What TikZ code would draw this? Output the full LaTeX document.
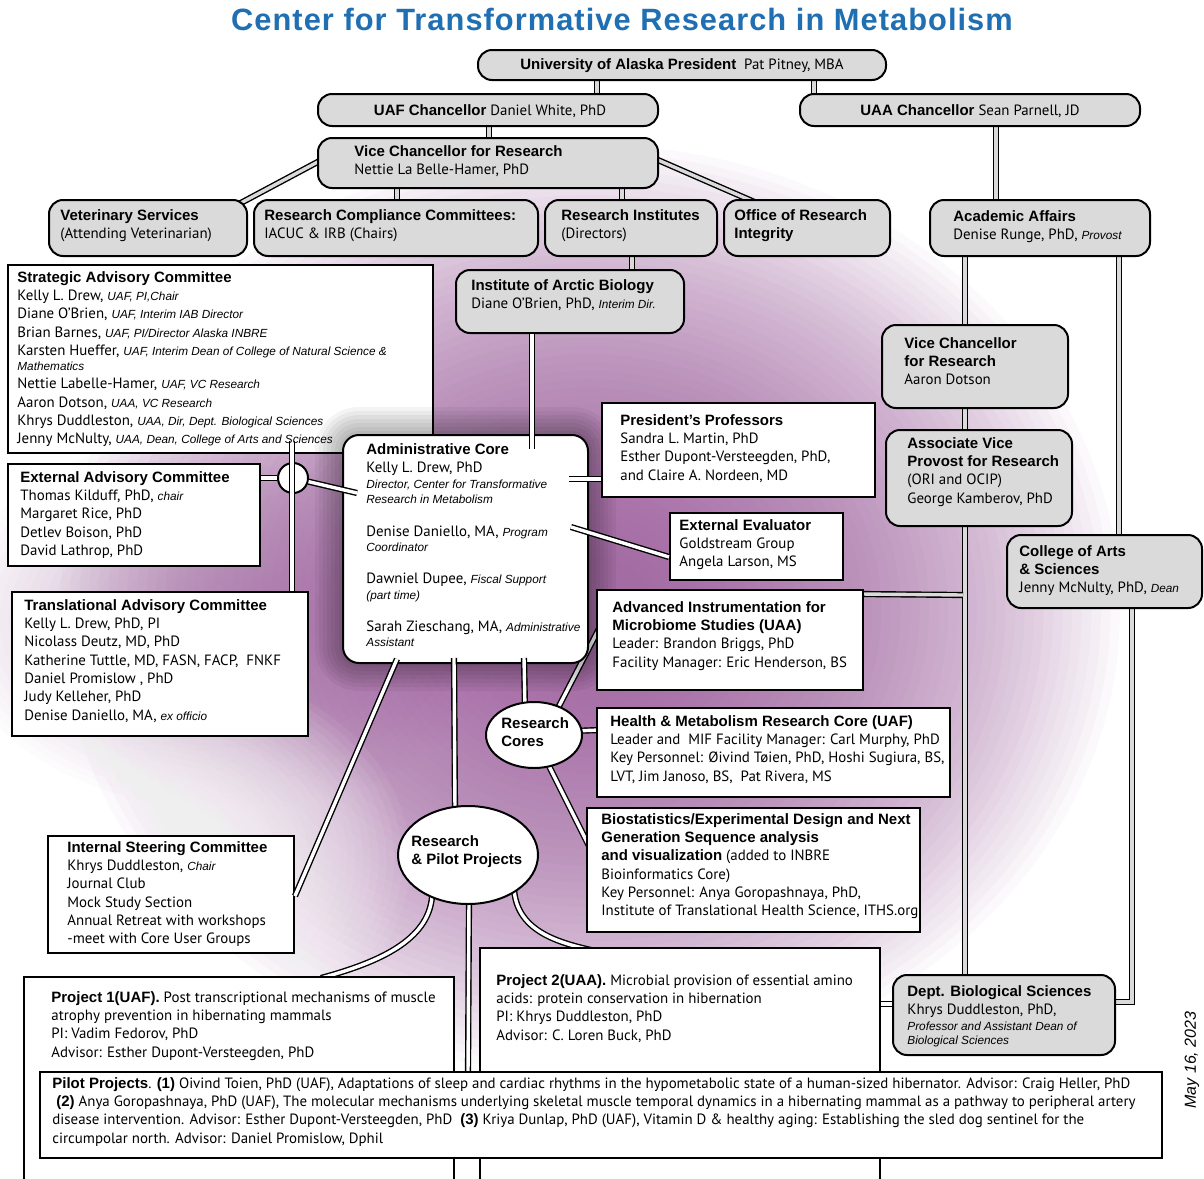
\documentclass[tikz,border=0pt]{standalone}
\usepackage{fontspec}
\setmainfont{PT Sans}
\newfontfamily\arialf{Liberation Sans}
\usetikzlibrary{fit,shapes.geometric}
\definecolor{gfill}{RGB}{218,218,218}
\definecolor{ppl}{RGB}{155,85,155}
\definecolor{ttl}{RGB}{31,111,178}
\pgfdeclarelayer{bg}\pgfdeclarelayer{conn}\pgfdeclarelayer{conn2}\pgfdeclarelayer{top}
\pgfsetlayers{bg,conn,main,conn2,top}
\newcommand\hd[1]{{\arialf\bfseries\fontsize{7.5}{9.15}\selectfont #1}}
\newcommand\lb[1]{{\arialf\itshape\fontsize{5.9}{9.15}\selectfont #1}}
\begin{document}
\begin{tikzpicture}[x=0.5pt,y=-0.5pt,
  gbox/.style={draw=black, line width=1pt, fill=gfill, rounded corners=7pt, inner sep=0pt},
  wbox/.style={draw=black, line width=1pt, fill=white, inner sep=0pt},
  conn/.style={draw=black, line width=0.7pt, double=white, double distance=1.7pt},
  gconn/.style={conn, double=gfill},
  txt/.style={inner sep=0pt, anchor=north west, align=left, font=\fontsize{7.45}{9.15}\selectfont,
    execute at begin node={\rule{0pt}{6pt}}},
  ell/.style={ellipse, draw=black, line width=1pt, fill=white, inner sep=0pt}]
\useasboundingbox (0,0) rectangle (1204,1178);
\clip (0,0) rectangle (1204,1178);
% ---------- background
\begin{pgfonlayer}{bg}
\fill[white] (0,0) rectangle (1204,1178);
\foreach \k in {0,...,29}{\pgfmathsetmacro\s{1-\k*0.03}
  \fill[ppl, opacity=0.016] (230,620) ellipse ({280*\s} and {190*\s});}
\foreach \k in {0,...,49}{\pgfmathsetmacro\s{1-\k*0.018}
  \fill[ppl, opacity=0.03] (590,610) ellipse ({530*\s} and {465*\s});}
\foreach \k in {0,...,29}{\pgfmathsetmacro\s{1-\k*0.03}
  \fill[white, opacity=0.06] (150,860) ellipse ({260*\s} and {200*\s});}
\end{pgfonlayer}
% ---------- title
\node[anchor=base, inner sep=0pt, text=ttl] (title) at (622,31)
  {\arialf\bfseries\fontsize{15.4}{18}\selectfont\addfontfeature{LetterSpace=3.4}Center for Transformative Research in Metabolism};
% ---------- grey boxes
\node[gbox, fit={(478,50)(886,80)}] (pres) {};
\node[gbox, fit={(318,94)(658,126)}] (uafc) {};
\node[gbox, fit={(800,94)(1140,126)}] (uaac) {};
\node[gbox, fit={(318,138)(658,188)}] (vcr) {};
\node[gbox, fit={(49,200)(247,256)}] (vet) {};
\node[gbox, fit={(254,200)(538,256)}] (rcc) {};
\node[gbox, fit={(545,200)(717,256)}] (ri) {};
\node[gbox, fit={(724,200)(890,256)}] (ori) {};
\node[gbox, fit={(930,200)(1150,256)}] (aa) {};
\node[gbox, fit={(456,270)(684,333)}] (iab) {};
\node[gbox, fit={(882,325)(1068,408)}] (vcuaa) {};
\node[gbox, fit={(886,430)(1072,526)}] (avp) {};
\node[gbox, fit={(1007,535)(1202,608)}] (cas) {};
\node[gbox, fit={(893,975)(1115,1055)}] (dbs) {};
% ---------- white boxes
\node[wbox, fit={(8,265)(433,453)}] (sac) {};
\node[wbox, fit={(8,464)(260,566)}] (eac) {};
\node[wbox, fit={(12,592)(308,736)}] (tac) {};
\node[wbox, fit={(48,836)(294,953)}] (isc) {};
\node[wbox, fit={(24,977)(454,1200)}] (p1) {};
\node[wbox, fit={(480,948)(880,1200)}] (p2) {};
\node[wbox, fit={(40,1072)(1162,1158)}] (pilot) {};
% shadow of the administrative core
\foreach \k in {1,...,7}{\pgfmathsetmacro\rr{8+2*\k}
  \fill[black, opacity=0.045, rounded corners=\rr pt] ({343-4*\k},{435-4*\k}) rectangle ({588+4*\k},{663+4*\k});}
\node[wbox, rounded corners=8pt, fit={(343,435)(588,663)}] (admin) {};
\node[wbox, fit={(602,403)(875,497)}] (pp) {};
\node[wbox, fit={(670,513)(843,580)}] (ee) {};
\node[wbox, fit={(597,590)(863,690)}] (ai) {};
\node[wbox, fit={(597,708)(950,797)}] (hm) {};
\node[wbox, fit={(587,808)(920,932)}] (bio) {};
% ---------- ellipses
\begin{pgfonlayer}{top}
\node[ell, minimum width=48pt, minimum height=33pt] (rc) at (534,735) {};
\node[ell, minimum width=70pt, minimum height=49pt] (rp) at (468,855) {};
\end{pgfonlayer}
% ---------- connectors below boxes
\begin{pgfonlayer}{conn}
\draw[gconn] ([shift={(120,-3)}]pres.south west) -- ([shift={(280,3)}]uafc.north west);
\draw[gconn] ([shift={(337,-3)}]pres.south west) -- ([shift={(15,3)}]uaac.north west);
\draw[gconn] ([shift={(172,-3)}]uafc.south west) -- ([shift={(172,3)}]vcr.north west);
\draw[gconn] ([shift={(10,20)}]vcr.north west) -- ([shift={(-11,6)}]vet.north east);
\draw[gconn] ([shift={(80,-3)}]vcr.south west) -- ([shift={(144,3)}]rcc.north west);
\draw[gconn] ([shift={(305,-3)}]vcr.south west) -- ([shift={(78,3)}]ri.north west);
\draw[gconn] ([shift={(-8,20)}]vcr.north east) -- ([shift={(36,5)}]ori.north west);
\draw[gconn] ([shift={(88,-3)}]ri.south west) -- ([shift={(177,3)}]iab.north west);
\draw[gconn] ([shift={(197,-3)}]uaac.south west) -- ([shift={(67,3)}]aa.north west);
\draw[gconn] ([shift={(36,-3)}]aa.south west) -- ([shift={(84,3)}]vcuaa.north west);
\draw[gconn] ([shift={(190,-3)}]aa.south west) -- ([shift={(113,3)}]cas.north west);
\draw[gconn] ([shift={(84,-3)}]vcuaa.south west) -- ([shift={(80,3)}]avp.north west);
\draw[gconn] ([shift={(80,-3)}]avp.south west) -- ([shift={(73,3)}]dbs.north west);
\coordinate (j1) at (963,595);
\draw[gconn] ([shift={(-3,5)}]ai.north east) -- (j1);
\draw[gconn] ([shift={(126,-3)}]cas.south west) |- ([shift={(-3,28)}]dbs.north east);
\draw[conn] ([shift={(3,30)}]dbs.north west) -- ([shift={(-3,57)}]p2.north east);
\draw[conn] ([shift={(24,-27)}]rc.center) -- ([shift={(8,30)}]ai.north west);
\draw[conn] ([shift={(40,-4)}]rc.center) -- ([shift={(3,23)}]hm.north west);
\draw[conn] ([shift={(12,25)}]rc.center) -- ([shift={(6,45)}]bio.north west);
\draw[conn] ([shift={(-36,42)}]rp.center) .. controls (428,940) and (380,962) .. ([shift={(298,2)}]p1.north west);
\draw[conn] ([shift={(1,45)}]rp.center) -- ([shift={(429,3)}]pilot.north west);
\draw[conn] ([shift={(46,33)}]rp.center) .. controls (516,930) and (556,942) .. ([shift={(112,3)}]p2.north west);
\end{pgfonlayer}
% ---------- connectors above boxes
\begin{pgfonlayer}{conn2}
\draw[conn] ([shift={(77,0)}]iab.south west) -- ([shift={(190,15)}]admin.north west);
\draw[conn] ([shift={(-20,45)}]admin.north east) -- ([shift={(0,77)}]pp.north west);
\draw[conn] ([shift={(-18,93)}]admin.north east) -- ([shift={(0,45)}]ee.north west);
\draw[conn] ([shift={(55,-5)}]admin.south west) -- ([shift={(0,61)}]isc.north east);
\draw[conn] ([shift={(112,-6)}]admin.south west) -- ([shift={(-13,-44)}]rp.center);
\draw[conn] ([shift={(182,-6)}]admin.south west) -- ([shift={(-9,-26)}]rc.center);
\node[circle, draw=black, line width=1pt, fill=white, minimum size=15pt, inner sep=0pt] (jn) at (293,478) {};
\draw[conn] ([shift={(285,-13)}]sac.south west) -- ([shift={(281,0)}]tac.north west);
\draw[conn] ([shift={(0,15)}]eac.north east) -- (jn);
\draw[conn] (jn) -- ([shift={(15,59)}]admin.north west);
\end{pgfonlayer}
% ---------- texts
\begin{pgfonlayer}{top}
\node[txt, anchor=base] (tpres) at (682,69) {\hd{University of Alaska President}\ \ Pat Pitney, MBA};
\node[txt, anchor=base] (tuafc) at (490,115) {\hd{UAF Chancellor} Daniel White, PhD};
\node[txt, anchor=base] (tuaac) at (970,115) {\hd{UAA Chancellor} Sean Parnell, JD};
\node[txt] (tvcr) at (354,145) {\hd{Vice Chancellor for Research}\\ Nettie La Belle-Hamer, PhD};
\node[txt] (tvet) at (60,209) {\hd{Veterinary Services}\\ (Attending Veterinarian)};
\node[txt] (trcc) at (264,209) {\hd{Research Compliance Committees:}\\ IACUC \& IRB (Chairs)};
\node[txt] (tri) at (561,209) {\hd{Research Institutes}\\ (Directors)};
\node[txt] (tori) at (734,209) {\hd{Office of Research}\\ \hd{Integrity}};
\node[txt] (taa) at (953,210) {\hd{Academic Affairs}\\ Denise Runge, PhD, \lb{Provost}};
\node[txt] (tiab) at (471,279) {\hd{Institute of Arctic Biology}\\ Diane O’Brien, PhD, \lb{Interim Dir.}};
\node[txt] (tvcuaa) at (904,337) {\hd{Vice Chancellor}\\ \hd{for Research}\\ Aaron Dotson};
\node[txt] (tavp) at (907,437) {\hd{Associate Vice}\\ \hd{Provost for Research}\\ (ORI and OCIP)\\ George Kamberov, PhD};
\node[txt] (tcas) at (1019,545) {\hd{College of Arts}\\ \hd{\& Sciences}\\ Jenny McNulty, PhD, \lb{Dean}};
\node[txt] (tdbs) at (907,985) {\hd{Dept. Biological Sciences}\\ Khrys Duddleston, PhD,\\[-1.2pt] \lb{Professor and Assistant Dean of}\\[-2.2pt] \lb{Biological Sciences}};
\node[txt] (tsac) at (17,271) {\hd{Strategic Advisory Committee}\\
  Kelly L. Drew, \lb{UAF, PI,Chair}\\
  Diane O’Brien, \lb{UAF, Interim IAB Director}\\
  Brian Barnes, \lb{UAF, PI/Director Alaska INBRE}\\
  Karsten Hueffer, \lb{UAF, Interim Dean of College of Natural Science \&}\\[-1.6pt]
  \lb{Mathematics}\\
  Nettie Labelle-Hamer, \lb{UAF, VC Research}\\
  Aaron Dotson, \lb{UAA, VC Research}\\
  Khrys Duddleston, \lb{UAA, Dir, Dept. Biological Sciences}\\
  Jenny McNulty, \lb{UAA, Dean, College of Arts and Sciences}};
\node[txt] (teac) at (20,471) {\hd{External Advisory Committee}\\
  Thomas Kilduff, PhD, \lb{chair}\\ Margaret Rice, PhD\\ Detlev Boison, PhD\\ David Lathrop, PhD};
\node[txt] (ttac) at (24,599) {\hd{Translational Advisory Committee}\\
  Kelly L. Drew, PhD, PI\\ Nicolass Deutz, MD, PhD\\ Katherine Tuttle, MD, FASN, FACP,\ \ FNKF\\
  Daniel Promislow , PhD\\ Judy Kelleher, PhD\\ Denise Daniello, MA, \lb{ex officio}};
\node[txt] (tadmin) at (366,443) {\hd{Administrative Core}\\
  Kelly L. Drew, PhD\\[-1.2pt] \lb{Director, Center for Transformative}\\[-1.6pt] \lb{Research in Metabolism}\\[7.3pt]
  Denise Daniello, MA, \lb{Program}\\[-1.6pt] \lb{Coordinator}\\[6.8pt]
  Dawniel Dupee, \lb{Fiscal Support}\\[-1.2pt] \lb{(part time)}\\[6.8pt]
  Sarah Zieschang, MA, \lb{Administrative}\\[-1.6pt] \lb{Assistant}};
\node[txt] (tpp) at (620,414) {\hd{President’s Professors}\\ Sandra L. Martin, PhD\\ Esther Dupont-Versteegden, PhD,\\ and Claire A. Nordeen, MD};
\node[txt] (tee) at (679,519) {\hd{External Evaluator}\\ Goldstream Group\\ Angela Larson, MS};
\node[txt] (tai) at (612,601) {\hd{Advanced Instrumentation for}\\ \hd{Microbiome Studies (UAA)}\\ Leader: Brandon Briggs, PhD\\ Facility Manager: Eric Henderson, BS};
\node[txt] (thm) at (610,715) {\hd{Health \& Metabolism Research Core (UAF)}\\ Leader and\ \ MIF Facility Manager: Carl Murphy, PhD\\ Key Personnel: Øivind Tøien, PhD, Hoshi Sugiura, BS,\\ LVT, Jim Janoso, BS,\ \ Pat Rivera, MS};
\node[txt] (tbio) at (601,813) {\hd{Biostatistics/Experimental Design and Next}\\ \hd{Generation Sequence analysis}\\ \hd{and visualization} (added to INBRE\\ Bioinformatics Core)\\ Key Personnel: Anya Goropashnaya, PhD,\\ Institute of Translational Health Science, ITHS.org};
\node[txt] (trc) at (501,717) {\hd{Research}\\ \hd{Cores}};
\node[txt] (trp) at (411,835) {\hd{Research}\\ \hd{\& Pilot Projects}};
\node[txt] (tisc) at (67,841) {\hd{Internal Steering Committee}\\ Khrys Duddleston, \lb{Chair}\\ Journal Club\\ Mock Study Section\\ Annual Retreat with workshops\\ -meet with Core User Groups};
\node[txt] (tp1) at (51,991) {\hd{Project 1(UAF).} Post transcriptional mechanisms of muscle\\ atrophy prevention in hibernating mammals\\ PI: Vadim Fedorov, PhD\\ Advisor: Esther Dupont-Versteegden, PhD};
\node[txt] (tp2) at (496,974) {\hd{Project 2(UAA).} Microbial provision of essential amino\\ acids: protein conservation in hibernation\\ PI: Khrys Duddleston, PhD\\ Advisor: C. Loren Buck, PhD};
\node[txt] (tpilot) at (52,1077) {\hd{Pilot Projects}. \hd{(1)} Oivind Toien, PhD (UAF), Adaptations of sleep and cardiac rhythms in the hypometabolic state of a human-sized hibernator. Advisor: Craig Heller, PhD\\
  \ \hd{(2)} Anya Goropashnaya, PhD (UAF), The molecular mechanisms underlying skeletal muscle temporal dynamics in a hibernating mammal as a pathway to peripheral artery\\
  disease intervention. Advisor: Esther Dupont-Versteegden, PhD\ \ \hd{(3)} Kriya Dunlap, PhD (UAF), Vitamin D \& healthy aging: Establishing the sled dog sentinel for the\\
  circumpolar north. Advisor: Daniel Promislow, Dphil};
\node[rotate=90, inner sep=0pt, font=\arialf\itshape\fontsize{8}{9}\selectfont] (date) at (1192,1060) {May 16, 2023};
\end{pgfonlayer}
\end{tikzpicture}
\end{document}
